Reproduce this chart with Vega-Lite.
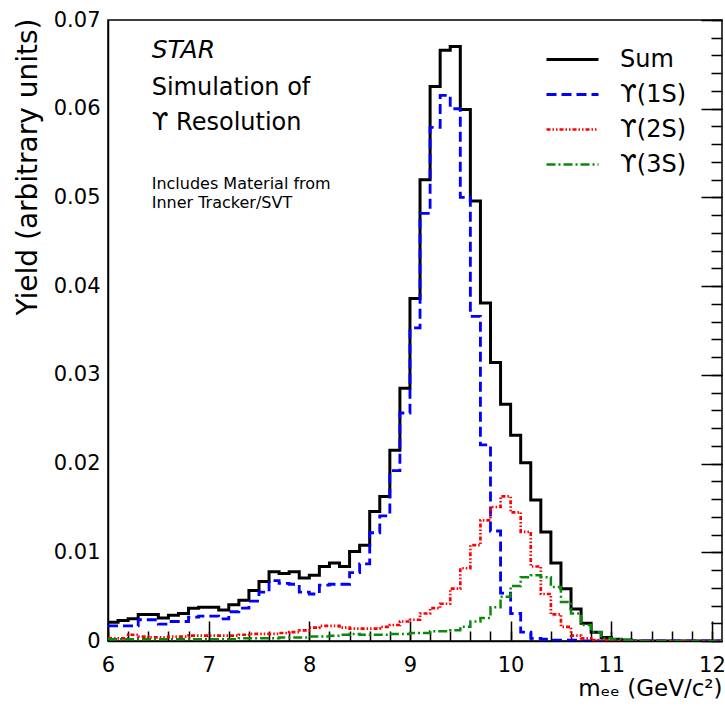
{
  "$schema": "https://vega.github.io/schema/vega-lite/v6.json",
  "width": 614,
  "height": 621,
  "autosize": {"type": "none"},
  "padding": {"left": 108, "top": 20, "right": 3, "bottom": 65},
  "background": "white",
  "config": {
    "font": "DejaVu Sans",
    "view": {"stroke": "black", "strokeWidth": 1.5},
    "axis": {"grid": false, "domainColor": "black", "domainWidth": 1.5, "tickColor": "black", "gridColor": "black", "gridWidth": 1.5, "gridOpacity": 1, "labelColor": "black", "titleColor": "black", "labelFont": "DejaVu Sans", "titleFont": "DejaVu Sans", "titleFontWeight": "normal"}
  },
  "resolve": {"axis": {"x": "independent", "y": "independent"}},
  "layer": [
    {
      "data": {
        "values": [
          {"m": 6.0, "Sum": 0.0021, "U1S": 0.0017, "U2S": 0.0003, "U3S": 0.0002},
          {"m": 6.1, "Sum": 0.0023, "U1S": 0.0017, "U2S": 0.0003, "U3S": 0.0002},
          {"m": 6.2, "Sum": 0.0025, "U1S": 0.0017, "U2S": 0.0007, "U3S": 0.0002},
          {"m": 6.3, "Sum": 0.0030, "U1S": 0.0024, "U2S": 0.0005, "U3S": 0.0002},
          {"m": 6.4, "Sum": 0.0030, "U1S": 0.0024, "U2S": 0.0004, "U3S": 0.0002},
          {"m": 6.5, "Sum": 0.0026, "U1S": 0.0019, "U2S": 0.0004, "U3S": 0.0002},
          {"m": 6.6, "Sum": 0.0029, "U1S": 0.0022, "U2S": 0.0005, "U3S": 0.0002},
          {"m": 6.7, "Sum": 0.0031, "U1S": 0.0022, "U2S": 0.0005, "U3S": 0.0002},
          {"m": 6.8, "Sum": 0.0037, "U1S": 0.0027, "U2S": 0.0006, "U3S": 0.0002},
          {"m": 6.9, "Sum": 0.0038, "U1S": 0.0028, "U2S": 0.0006, "U3S": 0.0002},
          {"m": 7.0, "Sum": 0.0038, "U1S": 0.0028, "U2S": 0.0006, "U3S": 0.0002},
          {"m": 7.1, "Sum": 0.0035, "U1S": 0.0025, "U2S": 0.0006, "U3S": 0.0002},
          {"m": 7.2, "Sum": 0.0041, "U1S": 0.0033, "U2S": 0.0006, "U3S": 0.0002},
          {"m": 7.3, "Sum": 0.0046, "U1S": 0.0037, "U2S": 0.0007, "U3S": 0.0003},
          {"m": 7.4, "Sum": 0.0057, "U1S": 0.0045, "U2S": 0.0008, "U3S": 0.0003},
          {"m": 7.5, "Sum": 0.0067, "U1S": 0.0055, "U2S": 0.0008, "U3S": 0.0003},
          {"m": 7.6, "Sum": 0.0078, "U1S": 0.0068, "U2S": 0.0008, "U3S": 0.0003},
          {"m": 7.7, "Sum": 0.0076, "U1S": 0.0065, "U2S": 0.0009, "U3S": 0.0004},
          {"m": 7.8, "Sum": 0.0078, "U1S": 0.0064, "U2S": 0.0010, "U3S": 0.0004},
          {"m": 7.9, "Sum": 0.0071, "U1S": 0.0055, "U2S": 0.0012, "U3S": 0.0004},
          {"m": 8.0, "Sum": 0.0074, "U1S": 0.0053, "U2S": 0.0015, "U3S": 0.0005},
          {"m": 8.1, "Sum": 0.0084, "U1S": 0.0063, "U2S": 0.0017, "U3S": 0.0005},
          {"m": 8.2, "Sum": 0.0088, "U1S": 0.0064, "U2S": 0.0017, "U3S": 0.0006},
          {"m": 8.3, "Sum": 0.0084, "U1S": 0.0064, "U2S": 0.0015, "U3S": 0.0007},
          {"m": 8.4, "Sum": 0.0101, "U1S": 0.0077, "U2S": 0.0014, "U3S": 0.0008},
          {"m": 8.5, "Sum": 0.0108, "U1S": 0.0087, "U2S": 0.0014, "U3S": 0.0007},
          {"m": 8.6, "Sum": 0.0146, "U1S": 0.0122, "U2S": 0.0014, "U3S": 0.0007},
          {"m": 8.7, "Sum": 0.0163, "U1S": 0.0141, "U2S": 0.0016, "U3S": 0.0007},
          {"m": 8.8, "Sum": 0.0215, "U1S": 0.0192, "U2S": 0.0018, "U3S": 0.0008},
          {"m": 8.9, "Sum": 0.0285, "U1S": 0.0257, "U2S": 0.0022, "U3S": 0.0008},
          {"m": 9.0, "Sum": 0.0386, "U1S": 0.0353, "U2S": 0.0024, "U3S": 0.0009},
          {"m": 9.1, "Sum": 0.0520, "U1S": 0.0482, "U2S": 0.0031, "U3S": 0.0009},
          {"m": 9.2, "Sum": 0.0625, "U1S": 0.0579, "U2S": 0.0037, "U3S": 0.0011},
          {"m": 9.3, "Sum": 0.0666, "U1S": 0.0615, "U2S": 0.0042, "U3S": 0.0011},
          {"m": 9.4, "Sum": 0.0670, "U1S": 0.0600, "U2S": 0.0059, "U3S": 0.0012},
          {"m": 9.5, "Sum": 0.0599, "U1S": 0.0500, "U2S": 0.0082, "U3S": 0.0016},
          {"m": 9.6, "Sum": 0.0496, "U1S": 0.0366, "U2S": 0.0108, "U3S": 0.0022},
          {"m": 9.7, "Sum": 0.0381, "U1S": 0.0221, "U2S": 0.0136, "U3S": 0.0026},
          {"m": 9.8, "Sum": 0.0314, "U1S": 0.0124, "U2S": 0.0151, "U3S": 0.0038},
          {"m": 9.9, "Sum": 0.0267, "U1S": 0.0054, "U2S": 0.0163, "U3S": 0.0050},
          {"m": 10.0, "Sum": 0.0232, "U1S": 0.0031, "U2S": 0.0145, "U3S": 0.0062},
          {"m": 10.1, "Sum": 0.0201, "U1S": 0.0010, "U2S": 0.0123, "U3S": 0.0072},
          {"m": 10.2, "Sum": 0.0159, "U1S": 0.0003, "U2S": 0.0084, "U3S": 0.0074},
          {"m": 10.3, "Sum": 0.0123, "U1S": 0.0002, "U2S": 0.0053, "U3S": 0.0072},
          {"m": 10.4, "Sum": 0.0088, "U1S": 0.0001, "U2S": 0.0030, "U3S": 0.0061},
          {"m": 10.5, "Sum": 0.0059, "U1S": 0.0001, "U2S": 0.0016, "U3S": 0.0044},
          {"m": 10.6, "Sum": 0.0036, "U1S": 0.0001, "U2S": 0.0006, "U3S": 0.0031},
          {"m": 10.7, "Sum": 0.0020, "U1S": 0.0, "U2S": 0.0003, "U3S": 0.0018},
          {"m": 10.8, "Sum": 0.0010, "U1S": 0.0, "U2S": 0.0001, "U3S": 0.0010},
          {"m": 10.9, "Sum": 0.0004, "U1S": 0.0, "U2S": 0.0001, "U3S": 0.0003},
          {"m": 11.0, "Sum": 0.0002, "U1S": 0.0, "U2S": 0.0, "U3S": 0.0002},
          {"m": 11.1, "Sum": 0.0001, "U1S": 0.0, "U2S": 0.0, "U3S": 0.0001},
          {"m": 11.2, "Sum": 0.0, "U1S": 0.0, "U2S": 0.0, "U3S": 0.0},
          {"m": 11.3, "Sum": 0.0, "U1S": 0.0, "U2S": 0.0, "U3S": 0.0},
          {"m": 11.4, "Sum": 0.0, "U1S": 0.0, "U2S": 0.0, "U3S": 0.0},
          {"m": 11.5, "Sum": 0.0, "U1S": 0.0, "U2S": 0.0, "U3S": 0.0},
          {"m": 11.6, "Sum": 0.0, "U1S": 0.0, "U2S": 0.0, "U3S": 0.0},
          {"m": 11.7, "Sum": 0.0, "U1S": 0.0, "U2S": 0.0, "U3S": 0.0},
          {"m": 11.8, "Sum": 0.0, "U1S": 0.0, "U2S": 0.0, "U3S": 0.0},
          {"m": 11.9, "Sum": 0.0, "U1S": 0.0, "U2S": 0.0, "U3S": 0.0},
          {"m": 12.0, "Sum": 0.0, "U1S": 0.0, "U2S": 0.0, "U3S": 0.0},
          {"m": 12.1, "Sum": 0.0, "U1S": 0.0, "U2S": 0.0, "U3S": 0.0}
        ]
      },
      "transform": [{"fold": ["Sum", "U1S", "U2S", "U3S"], "as": ["series", "yield"]}],
      "mark": {"type": "line", "interpolate": "step-after", "clip": true},
      "encoding": {
        "x": {
          "field": "m", "type": "quantitative",
          "scale": {"domain": [6, 12.1], "nice": false, "zero": false},
          "axis": {
            "orient": "bottom",
            "title": "mₑₑ (GeV/c²)",
            "titleFontSize": 23,
            "titleX": 614, "titleY": 54, "titleAlign": "right", "titleAnchor": "end", "titleBaseline": "alphabetic",
            "values": [6, 7, 8, 9, 10, 11, 12],
            "ticks": false, "grid": true, "gridDash": [0, 601, 20, 10000],
            "format": "d",
            "labelFontSize": 21, "labelPadding": 13, "labelBaseline": "top", "labelFlush": false, "labelOverlap": false
          }
        },
        "y": {
          "field": "yield", "type": "quantitative",
          "scale": {"domain": [0, 0.07], "nice": false, "zero": false},
          "axis": {
            "orient": "left",
            "title": "Yield (arbitrary units)",
            "titleFontSize": 28,
            "titleX": -72, "titleY": -2, "titleAngle": -90, "titleAlign": "right", "titleBaseline": "alphabetic",
            "values": [0, 0.01, 0.02, 0.03, 0.04, 0.05, 0.06, 0.07],
            "ticks": false, "grid": true, "gridDash": [0, 593, 21, 10000],
            "format": ".2~f",
            "labelFontSize": 21, "labelPadding": 8, "labelFlush": false, "labelOverlap": false
          }
        },
        "color": {
          "field": "series", "type": "nominal",
          "scale": {"domain": ["Sum", "U1S", "U2S", "U3S"], "range": ["#000000", "#0000ff", "#ff0000", "#0a8a0a"]},
          "legend": {
            "title": null, "orient": "none", "legendX": 437, "legendY": 22,
            "symbolType": "stroke", "symbolSize": 2704, "symbolStrokeWidth": 2.5,
            "labelFontSize": 24, "labelFont": "DejaVu Sans", "labelColor": "black", "labelOffset": 20,
            "clipHeight": 35, "rowPadding": 0, "padding": 0,
            "labelExpr": "{'Sum': 'Sum', 'U1S': 'ϒ(1S)', 'U2S': 'ϒ(2S)', 'U3S': 'ϒ(3S)'}[datum.label]"
          }
        },
        "strokeDash": {
          "field": "series", "type": "nominal",
          "scale": {"domain": ["Sum", "U1S", "U2S", "U3S"], "range": [[1, 0], [10, 5], [4, 2, 1.5, 2, 1.5, 2], [9, 3, 2, 3]]},
          "legend": {
            "title": null, "orient": "none", "legendX": 437, "legendY": 22,
            "symbolType": "stroke", "symbolSize": 2704, "symbolStrokeWidth": 2.5,
            "labelFontSize": 24, "labelFont": "DejaVu Sans", "labelColor": "black", "labelOffset": 20,
            "clipHeight": 35, "rowPadding": 0, "padding": 0,
            "labelExpr": "{'Sum': 'Sum', 'U1S': 'ϒ(1S)', 'U2S': 'ϒ(2S)', 'U3S': 'ϒ(3S)'}[datum.label]"
          }
        },
        "strokeWidth": {
          "field": "series", "type": "nominal",
          "scale": {"domain": ["Sum", "U1S", "U2S", "U3S"], "range": [3, 2.5, 2.5, 2.5]},
          "legend": null
        }
      }
    },
    {
      "data": {"values": [{"m": 6.434, "yield": 0.0657, "text": "STAR"}]},
      "mark": {"type": "text", "align": "left", "baseline": "alphabetic", "fontSize": 25, "fontStyle": "italic", "font": "DejaVu Sans", "color": "black"},
      "encoding": {
        "x": {
          "field": "m", "type": "quantitative",
          "axis": {
            "orient": "bottom", "title": null, "labels": false, "domain": false, "ticks": false,
            "grid": true, "gridDash": [0, 611, 10, 10000],
            "values": [6, 6.2, 6.4, 6.6, 6.8, 7, 7.2, 7.4, 7.6, 7.8, 8, 8.2, 8.4, 8.6, 8.8, 9, 9.2, 9.4, 9.6, 9.8, 10, 10.2, 10.4, 10.6, 10.8, 11, 11.2, 11.4, 11.6, 11.8, 12]
          }
        },
        "y": {
          "field": "yield", "type": "quantitative",
          "axis": {
            "orient": "left", "title": null, "labels": false, "domain": false, "ticks": false,
            "grid": true, "gridDash": [0, 603, 11, 10000],
            "values": [0, 0.002, 0.004, 0.006, 0.008, 0.01, 0.012, 0.014, 0.016, 0.018, 0.02, 0.022, 0.024, 0.026, 0.028, 0.03, 0.032, 0.034, 0.036, 0.038, 0.04, 0.042, 0.044, 0.046, 0.048, 0.05, 0.052, 0.054, 0.056, 0.058, 0.06, 0.062, 0.064, 0.066, 0.068, 0.07]
          }
        },
        "text": {"field": "text"}
      }
    },
    {
      "data": {"values": [
        {"m": 6.434, "yield": 0.0616, "text": "Simulation of"},
        {"m": 6.434, "yield": 0.0576, "text": "ϒ Resolution"}
      ]},
      "mark": {"type": "text", "align": "left", "baseline": "alphabetic", "fontSize": 24, "font": "DejaVu Sans", "color": "black"},
      "encoding": {
        "x": {"field": "m", "type": "quantitative", "axis": null},
        "y": {"field": "yield", "type": "quantitative", "axis": null},
        "text": {"field": "text"}
      }
    },
    {
      "data": {"values": [
        {"m": 6.434, "yield": 0.0509, "text": "Includes Material from"},
        {"m": 6.434, "yield": 0.0488, "text": "Inner Tracker/SVT"}
      ]},
      "mark": {"type": "text", "align": "left", "baseline": "alphabetic", "fontSize": 16, "font": "DejaVu Sans", "color": "black"},
      "encoding": {
        "x": {"field": "m", "type": "quantitative", "axis": null},
        "y": {"field": "yield", "type": "quantitative", "axis": null},
        "text": {"field": "text"}
      }
    }
  ]
}
